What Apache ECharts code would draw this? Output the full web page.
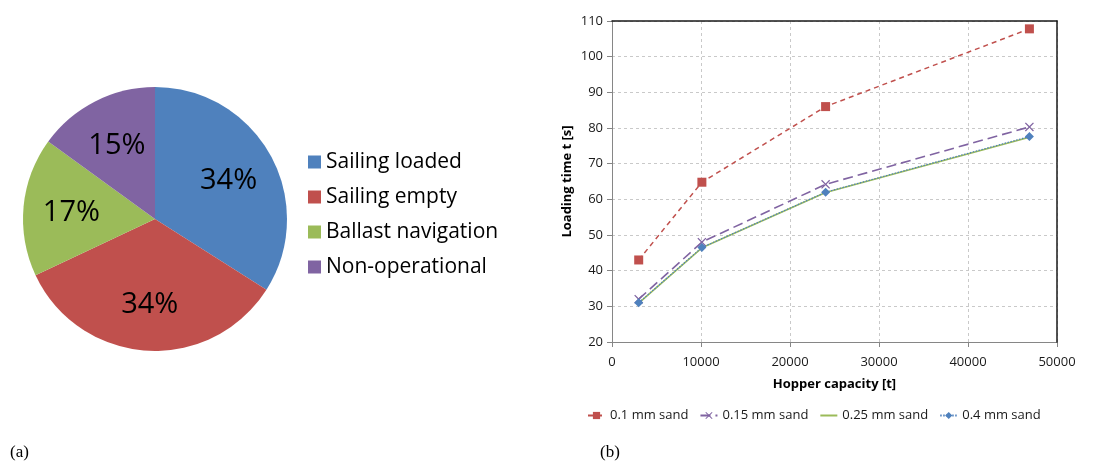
<!DOCTYPE html>
<html>
<head>
<meta charset="utf-8">
<script src="https://cdn.jsdelivr.net/npm/echarts@6/dist/echarts.min.js"></script>
<style>
  html, body { margin: 0; padding: 0; background: #fff; }
  #chart { width: 1109px; height: 461px; }
</style>
</head>
<body>
<div id="chart"></div>
<script>
// (a) time share of a dredging cycle
const pieNames = ['Sailing loaded', 'Sailing empty', 'Ballast navigation', 'Non-operational'];
const pieShares = [34, 34, 17, 15];
const pieColors = ['#4F81BD', '#C0504D', '#9BBB59', '#8064A2'];

// (b) loading time versus hopper capacity per sand grain size
const hopperCapacity = [3000, 10100, 24000, 46900];
const sand01 = [43, 64.8, 86, 107.8];
const sand015 = [32, 48, 64.2, 80.3];
const sand025 = [30.9, 46.4, 61.9, 77.4];
const sand04 = [31, 46.5, 62, 77.6];
const lineNames = ['0.1 mm sand', '0.15 mm sand', '0.25 mm sand', '0.4 mm sand'];
const xTicks = { min: 0, max: 50000, step: 10000 };
const yTicks = { min: 20, max: 110, step: 10 };

const FONT = '"Open Sans", "Liberation Sans", sans-serif';
const crossSymbol = 'path://M1,0L5,4L9,0L10,1L6,5L10,9L9,10L5,6L1,10L0,9L4,5L0,1Z';

const pieData = pieNames.map((n, i) => ({ name: n, value: pieShares[i], itemStyle: { color: pieColors[i] } }));
const pts = arr => hopperCapacity.map((x, i) => [x, arr[i]]);

// frame axes drawn over the dashed grid lines (top and right edges of the plot)
const frameAxis = {
  show: true,
  axisLine: { show: true, onZero: false, lineStyle: { color: '#1a1a1a', width: 1.5 } },
  axisTick: { show: false },
  axisLabel: { show: false },
  splitLine: { show: false },
  z: 10
};

const chart = echarts.init(document.getElementById('chart'), null, { renderer: 'canvas' });
chart.setOption({
  animation: false,
  textStyle: { fontFamily: FONT },
  legend: [
    {
      data: pieNames,
      orient: 'vertical',
      left: 303, top: 146,
      itemWidth: 13, itemHeight: 13,
      itemGap: 13,
      icon: 'rect',
      textStyle: { fontSize: 21, lineHeight: 22, color: '#000', fontFamily: FONT }
    },
    {
      data: [
        { name: lineNames[0] },
        { name: lineNames[1] },
        { name: lineNames[2], itemStyle: { opacity: 0 } },
        { name: lineNames[3] }
      ],
      orient: 'horizontal',
      left: 582, top: 404,
      itemWidth: 17, itemHeight: 9,
      itemGap: 11,
      textStyle: { fontSize: 13, color: '#1a1a1a', fontFamily: FONT }
    }
  ],
  grid: { left: 612, right: 52, top: 21, bottom: 119 },
  xAxis: [
    {
      type: 'value', min: xTicks.min, max: xTicks.max, interval: xTicks.step,
      name: 'Hopper capacity [t]', nameLocation: 'middle', nameGap: 36,
      nameTextStyle: { fontSize: 13, fontWeight: 'bold', color: '#000', fontFamily: FONT },
      axisLine: { show: true, onZero: false, lineStyle: { color: '#868686', width: 1 } },
      axisTick: { show: true, inside: false, length: 5, lineStyle: { color: '#868686' } },
      axisLabel: { fontSize: 13, color: '#1a1a1a', margin: 14, fontFamily: FONT, formatter: v => String(v) },
      splitLine: { show: true, lineStyle: { color: '#c9c9c9', type: [3, 3], width: 1 } }
    },
    Object.assign({ type: 'value', position: 'top', min: xTicks.min, max: xTicks.max }, frameAxis)
  ],
  yAxis: [
    {
      type: 'value', min: yTicks.min, max: yTicks.max, interval: yTicks.step,
      name: 'Loading time t [s]', nameLocation: 'middle', nameGap: 38,
      nameTextStyle: { fontSize: 13, fontWeight: 'bold', color: '#000', fontFamily: FONT },
      axisLine: { show: true, onZero: false, lineStyle: { color: '#868686', width: 1 } },
      axisTick: { show: true, inside: false, length: 5, lineStyle: { color: '#868686' } },
      axisLabel: { fontSize: 13, color: '#1a1a1a', margin: 9, fontFamily: FONT },
      splitLine: { show: true, lineStyle: { color: '#c9c9c9', type: [3, 3], width: 1 } }
    },
    Object.assign({ type: 'value', position: 'right', min: yTicks.min, max: yTicks.max }, frameAxis)
  ],
  series: [
    {
      type: 'pie',
      name: 'share',
      center: [155, 219],
      radius: [0, 132],
      startAngle: 90,
      clockwise: true,
      data: pieData,
      label: { show: false },
      labelLine: { show: false },
      itemStyle: { borderWidth: 0 },
      emphasis: { disabled: true },
      z: 2
    },
    {
      // label carrier ring: places the percentages at ~0.6 of the radius
      type: 'pie',
      name: 'share labels',
      center: [155, 221],
      radius: [30, 132],
      startAngle: 90,
      clockwise: true,
      silent: true,
      legendHoverLink: false,
      data: pieData.map(d => ({ name: d.name, value: d.value })),
      itemStyle: { color: 'rgba(0,0,0,0)', borderWidth: 0 },
      label: {
        show: true, position: 'inside',
        formatter: p => p.value + '%',
        fontSize: 29, color: '#000', fontFamily: FONT
      },
      labelLine: { show: false },
      emphasis: { disabled: true },
      z: 3
    },
    {
      type: 'line', name: lineNames[0], data: pts(sand01),
      symbol: 'rect', symbolSize: 9,
      itemStyle: { color: '#C0504D' },
      lineStyle: { color: '#C0504D', width: 1.5, type: [5, 4] },
      z: 5
    },
    {
      type: 'line', name: lineNames[1], data: pts(sand015),
      symbol: crossSymbol, symbolSize: 9,
      itemStyle: { color: '#8064A2' },
      lineStyle: { color: '#8064A2', width: 1.6, type: [10, 5] },
      z: 5
    },
    {
      type: 'line', name: lineNames[2], data: pts(sand025),
      symbol: 'none',
      itemStyle: { color: '#9BBB59' },
      lineStyle: { color: '#9BBB59', width: 1.6, type: 'solid' },
      z: 5
    },
    {
      type: 'line', name: lineNames[3], data: pts(sand04),
      symbol: 'diamond', symbolSize: 9,
      itemStyle: { color: '#4F81BD' },
      lineStyle: { color: '#4F81BD', width: 1.2, type: [1.5, 1.5] },
      z: 6
    }
  ],
  graphic: [
    { type: 'text', left: 10, top: 444, style: { text: '(a)', fontSize: 17, fontFamily: '"Liberation Serif", serif', fill: '#000' } },
    { type: 'text', left: 600, top: 444, style: { text: '(b)', fontSize: 17, fontFamily: '"Liberation Serif", serif', fill: '#000' } }
  ]
});
</script>
</body>
</html>
